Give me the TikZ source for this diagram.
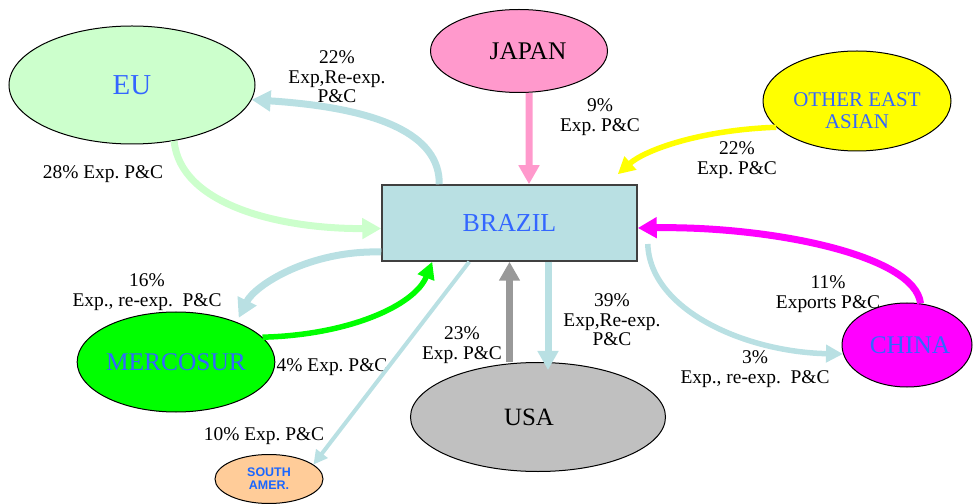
\documentclass[tikz,border=0pt]{standalone}
\usepackage{fontspec}
\setmainfont{Liberation Serif}
\newfontfamily\arialfont{Liberation Sans}
\frenchspacing
\usetikzlibrary{shapes.geometric,arrows.meta}
\definecolor{eugreen}{HTML}{CCFFCC}
\definecolor{japanpink}{HTML}{FF99CC}
\definecolor{brazilblue}{HTML}{B9E0E3}
\definecolor{usagray}{HTML}{C0C0C0}
\definecolor{arrowgray}{HTML}{999999}
\definecolor{samerorange}{HTML}{FFCC99}
\definecolor{nameblue}{HTML}{3366FF}
\definecolor{samerblue}{HTML}{1A66FF}
\definecolor{asiayellow}{HTML}{FFFF00}
\definecolor{chinamagenta}{HTML}{FF00FF}
\definecolor{mercogreen}{HTML}{00FF00}

\begin{document}
\begin{tikzpicture}[x=1bp,y=-1bp,
  country/.style={ellipse,draw=black,line width=1bp,inner sep=0pt},
  flow/.style={line width=7bp,-{Triangle[width=20bp,length=19bp]}},
  midflow/.style={line width=5.5bp,-{Triangle[width=17bp,length=17bp]}},
  thinflow/.style={line width=4bp,-{Triangle[width=14bp,length=14bp]}},
  lbl/.style={align=center,font=\fontsize{19.5}{19.5}\selectfont}]
  \useasboundingbox (0,0) rectangle (973,504);

  \node[lbl] (l1) at (337,77) {22\%\\Exp,Re-exp.\\P\&C};
  \node[lbl] (l2) at (103,174) {28\% Exp. P\&C};
  \node[lbl] (l3) at (600,117) {9\%\\Exp. P\&C};
  \node[lbl] (l4) at (737,160) {22\%\\Exp. P\&C};
  \node[lbl] (l5) at (147,292) {16\%\\Exp., re-exp.\ \ P\&C};
  \node[lbl] (l6) at (332,367) {4\% Exp. P\&C};
  \node[lbl] (l7) at (264,436) {10\% Exp. P\&C};
  \node[lbl] (l8) at (462,345) {23\%\\Exp. P\&C};
  \node[lbl] (l9) at (612,320) {39\%\\Exp,Re-exp.\\P\&C};
  \node[lbl] (l10) at (828,294) {11\%\\Exports P\&C};
  \node[lbl] (l11) at (755,369) {3\%\\Exp., re-exp.\ \ P\&C};

  \node[country,fill=eugreen,minimum width=246bp,minimum height=118bp,text=nameblue,
    font=\fontsize{29}{30}\selectfont] (eu) at (132,85) {EU};
  \node[country,fill=japanpink,minimum width=177bp,minimum height=83bp,
    font=\fontsize{25.5}{26}\selectfont] (japan) at (519,51) {\hspace*{18bp}JAPAN};
  \node[country,fill=asiayellow,minimum width=188bp,minimum height=100bp,
    label={[name=oeatext,text=nameblue,align=center,font=\fontsize{21}{22}\selectfont,yshift=-10bp]center:OTHER EAST\\ASIAN}]
    (oea) at (857,101) {};
  \node[draw=black!75,line width=1.5bp,fill=brazilblue,minimum width=255bp,minimum height=76bp,
    text=nameblue,font=\fontsize{26}{27}\selectfont] (brazil) at (509.5,223) {BRAZIL};
  \node[country,fill=chinamagenta,minimum width=130bp,minimum height=84bp,text=nameblue,
    font=\fontsize{25.5}{26}\selectfont] (china) at (907,345) {\hspace*{6bp}CHINA};
  \node[country,fill=mercogreen,minimum width=196bp,minimum height=100bp,text=nameblue,
    font=\fontsize{25.5}{26}\selectfont] (mercosur) at (176,362) {MERCOSUR};
  \node[country,fill=usagray,minimum width=255bp,minimum height=109bp,
    font=\fontsize{25}{26}\selectfont] (usa) at (538,417) {USA\hspace*{18bp}};
  \node[country,fill=samerorange,minimum width=108bp,minimum height=49bp,text=samerblue,align=center,
    font=\arialfont\bfseries\fontsize{12.5}{13}\selectfont] (samer) at (269,479) {SOUTH\\AMER.};

  \draw[flow,brazilblue] ([xshift=58bp]brazil.north west) .. controls (440,135) and (380,108) .. (eu.-7);
  \draw[flow,eugreen] (eu.-53) .. controls (180,205) and (280,229) .. ([yshift=-5.5bp]brazil.west);
  \draw[flow,japanpink] ([xshift=10bp]japan.south) -- ([xshift=19.5bp]brazil.north);
  \draw[midflow,asiayellow] (oea.198) .. controls (700,130) and (645,150) .. ([xshift=-20bp,yshift=10bp]brazil.north east);
  \draw[flow,chinamagenta] (china.72) .. controls (915,255) and (770,226) .. ([yshift=-5bp]brazil.east);
  \draw[midflow,brazilblue] ([xshift=10bp,yshift=-21bp]brazil.east) .. controls (650,310) and (745,352) .. (china.188);
  \draw[flow,brazilblue] ([yshift=-29bp]brazil.west) .. controls (310,250) and (255,285) .. ([yshift=5bp]mercosur.32);
  \draw[midflow,mercogreen] (mercosur.16) .. controls (350,335) and (415,305) .. ([xshift=51bp]brazil.south west);
  \draw[thinflow,brazilblue] ([xshift=88bp]brazil.south west) -- (samer.18);
  \draw[flow,arrowgray] (usa.north -| brazil.south) -- (brazil.south);
  \draw[flow,brazilblue,shorten >=-8bp] ([xshift=38.5bp]brazil.south) -- ([xshift=38.5bp]brazil.south |- usa.north);
\end{tikzpicture}
\end{document}
